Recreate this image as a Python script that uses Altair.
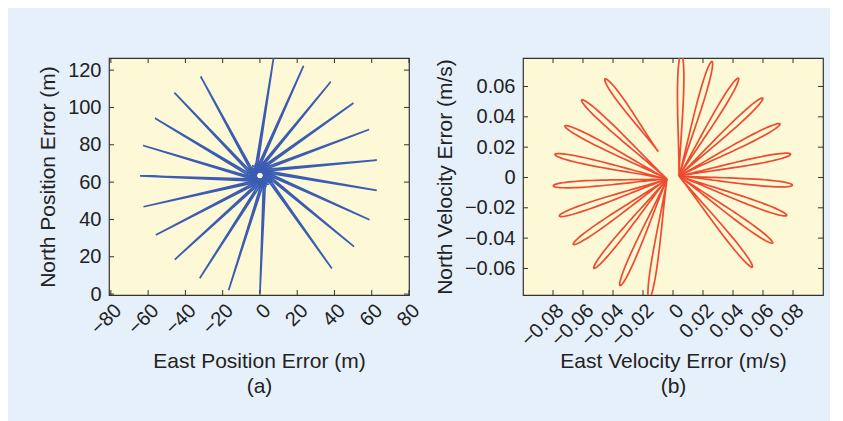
import numpy as np
import pandas as pd
import altair as alt

# ---------------- data ----------------
# (a) position-error spokes: tip coordinates (m)
pos_tip_east = [7.4, 23.4, 38.0, 50.2, 58.6, 62.7, 62.7, 58.8, 50.5, 38.6, 0.0,
                -16.8, -32.3, -45.7, -55.9, -62.5, -64.3, -62.7, -56.3, -45.9, -31.8]
pos_tip_north = [127.0, 122.3, 113.8, 102.4, 88.2, 71.8, 55.6, 39.8, 25.4, 13.7, 0.3,
                 2.1, 8.5, 18.5, 31.6, 46.8, 63.3, 79.6, 94.2, 107.9, 116.6]
pos_center = (0.0, 63.5)

# (b) velocity-error petals: tip and base coordinates (m/s)
vel_tip_east = [0.0055, 0.026, 0.0436, 0.0598, 0.0713, 0.0784, 0.0796, 0.0758, 0.0664, 0.0529,
                -0.016, -0.0353, -0.0527, -0.0665, -0.0758, -0.0798, -0.0787, -0.072, -0.0609, -0.0453]
vel_tip_north = [0.081, 0.0765, 0.0655, 0.0523, 0.0353, 0.0154, -0.0051, -0.025, -0.0432, -0.0591,
                 -0.080, -0.0713, -0.0598, -0.0441, -0.0254, -0.0055, 0.0152, 0.034, 0.0512, 0.065]
vel_base_east = [0.004] * 10 + [-0.004] * 9 + [-0.0098]
vel_base_north = [0.001] * 10 + [-0.001] * 9 + [0.017]

pos_x_ticks = [-80, -60, -40, -20, 0, 20, 40, 60, 80]
pos_y_ticks = [0, 20, 40, 60, 80, 100, 120]
vel_x_ticks = [-0.08, -0.06, -0.04, -0.02, 0, 0.02, 0.04, 0.06, 0.08]
vel_y_ticks = [-0.06, -0.04, -0.02, 0, 0.02, 0.04, 0.06]

# ---------------- geometry of each trace ----------------
rows = []
cx, cy = pos_center
for i, (te, tn) in enumerate(zip(pos_tip_east, pos_tip_north)):
    dx, dy = te - cx, tn - cy
    L = np.hypot(dx, dy)
    d = np.array([dx, dy]) / L
    n = np.array([-d[1], d[0]])
    c = np.array([cx, cy])
    pts = [c + 2.2 * n - 6 * d, np.array([te, tn]), c + 3.4 * n - 6 * d]
    for k, p in enumerate(pts):
        rows.append({"id": i, "k": k, "e": p[0], "n": p[1]})
pos_df = pd.DataFrame(rows)

rows = []
t = np.linspace(0, 2 * np.pi, 70)
for i in range(len(vel_tip_east)):
    b = np.array([vel_base_east[i], vel_base_north[i]])
    tip = np.array([vel_tip_east[i], vel_tip_north[i]])
    L = np.linalg.norm(tip - b)
    d = (tip - b) / L
    n = np.array([-d[1], d[0]])
    u = L * (1 - np.cos(t)) / 2
    v = (0.0021 / 0.65) * np.sin(t) * (1 - np.cos(t)) / 2
    for k in range(len(t)):
        p = b + u[k] * d + v[k] * n
        rows.append({"id": i, "k": k, "e": p[0], "n": p[1]})
vel_df = pd.DataFrame(rows)

W, H = 300, 237
FONT = "Liberation Sans"
TXT = "#222222"
TICK = "#333333"


def panel(df, xdom, ydom, xt, yt, xtitle, ytitle, color, width, xfmt, yfmt):
    xs = alt.Scale(domain=xdom, nice=False, zero=False)
    ys = alt.Scale(domain=ydom, nice=False, zero=False)
    xaxis = alt.Axis(values=xt, labelExpr=xfmt, labelAngle=-45, labelAlign="right",
                     labelBaseline="top", labelPadding=5, title=xtitle,
                     titleLineHeight=25, titleY=55, titleBaseline="top",
                     ticks=False, domain=False, grid=False,
                     labelFontSize=20, labelFont=FONT, labelColor=TXT,
                     labelOverlap=False, labelFlush=False, labelBound=False,
                     titleFontSize=21, titleFont=FONT, titleColor=TXT, titleFontWeight="normal")
    yaxis = alt.Axis(values=yt, labelExpr=yfmt, labelPadding=8,
                     title=ytitle, titlePadding=9,
                     ticks=False, domain=False, grid=False,
                     labelFontSize=20, labelFont=FONT, labelColor=TXT,
                     labelOverlap=False, labelFlush=False, labelBound=False,
                     titleFontSize=21, titleFont=FONT, titleColor=TXT, titleFontWeight="normal")
    lines = alt.Chart(df).mark_line(color=color, strokeWidth=width, clip=True).encode(
        x=alt.X("e:Q", scale=xs, axis=xaxis),
        y=alt.Y("n:Q", scale=ys, axis=yaxis),
        detail="id:N",
        order="k:Q",
    )
    xt_df = pd.DataFrame({"v": xt})
    yt_df = pd.DataFrame({"v": yt})
    tb = alt.Chart(xt_df).mark_rule(color=TICK, strokeWidth=1).encode(
        x=alt.X("v:Q", scale=xs, axis=xaxis), y=alt.value(H), y2=alt.value(H - 5))
    tt = alt.Chart(xt_df).mark_rule(color=TICK, strokeWidth=1).encode(
        x=alt.X("v:Q", scale=xs, axis=xaxis), y=alt.value(0), y2=alt.value(5))
    tl = alt.Chart(yt_df).mark_rule(color=TICK, strokeWidth=1).encode(
        y=alt.Y("v:Q", scale=ys, axis=yaxis), x=alt.value(0), x2=alt.value(5))
    tr = alt.Chart(yt_df).mark_rule(color=TICK, strokeWidth=1).encode(
        y=alt.Y("v:Q", scale=ys, axis=yaxis), x=alt.value(W - 5), x2=alt.value(W))
    return alt.layer(lines, tb, tt, tl, tr).properties(width=W, height=H)


minus = "replace(%s, '-', '\u2212')"
left = panel(pos_df, [-81, 80], [-0.5, 126.5], pos_x_ticks, pos_y_ticks,
             ["East Position Error (m)", "(a)"], "North Position Error (m)", "#3a5cb2", 1.7,
             minus % "format(datum.value, 'd')", minus % "format(datum.value, 'd')")
right = panel(vel_df, [-0.1, 0.1], [-0.0775, 0.0788], vel_x_ticks, vel_y_ticks,
              ["East Velocity Error (m/s)", "(b)"], "North Velocity Error (m/s)", "#ee4b2f", 1.7,
              "datum.value == 0 ? '0' : " + minus % "format(datum.value, '.2f')",
              "datum.value == 0 ? '0' : " + minus % "format(datum.value, '.2f')")

chart = alt.hconcat(left, right, spacing=9).properties(
    background="#e6f0fa",
    padding={"left": 29, "top": 48, "right": 5, "bottom": 30},
).configure_view(
    fill="#fdf8d6", stroke="#333333", strokeWidth=1.2
)

chart.save("out.html", embed_options={"renderer": "svg", "actions": False})
